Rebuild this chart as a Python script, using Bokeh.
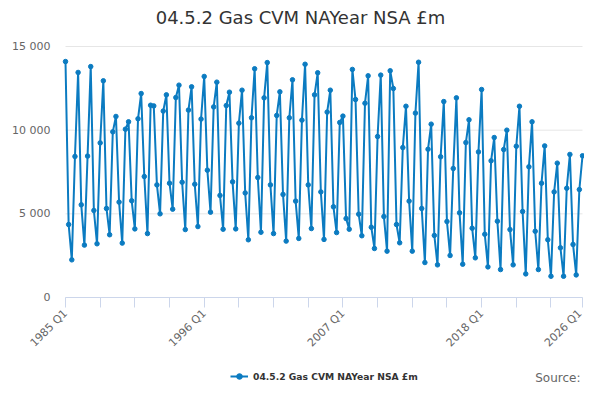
from math import pi

from bokeh.embed import file_html
from bokeh.models import FixedTicker, Label, Legend, Range1d
from bokeh.plotting import figure
from bokeh.resources import INLINE

#-------------- data ------------------#
start_year = 1985
gas_cvm = [
    14100, 4360, 2250, 8430, 13450, 5540, 3130, 8450, 13800, 5200, 3210, 9240, 12950, 5320, 3750, 9900, 10820, 5700, 3250, 10060, 10500,
    5780, 4100, 10680, 12190, 7230, 3820, 11490, 11450, 6730, 5000, 11140, 12110, 6830, 5280, 11950, 12690, 6890, 4060, 11200, 12590, 6770,
    4240, 10660, 13210, 7610, 5100, 11390, 12870, 6100, 4080, 11470, 12270, 6910, 4100, 10420, 12390, 6250, 3450, 10740, 13670, 7170, 3900,
    11930, 14040, 6730, 3820, 10880, 12290, 6160, 3370, 10740, 13010, 5760, 3530, 10600, 13940, 6730, 4120, 12110, 13430, 6310, 3470, 11080,
    12390, 5420, 3880, 10460, 10840, 4720, 4080, 13630, 11830, 4980, 3690, 11610, 13250, 4200, 2930, 9620, 13290, 4840, 2770, 13550, 12490,
    4360, 3270, 8960, 11430, 5760, 2770, 11020, 14060, 5320, 2090, 8860, 10360, 3710, 1950, 8410, 11710, 4540, 2510, 7710, 11930, 5060,
    1990, 9260, 10620, 4140, 2370, 8700, 12430, 3780, 1830, 8170, 9560, 4560, 1670, 8840, 10000, 4060, 1950, 9040, 11430, 5140, 1410,
    7810, 10500, 3960, 1670, 6830, 9060, 3450, 1270, 6310, 8030, 2970, 1270, 6530, 8550, 3170, 1350, 6450, 8470,
]
periods = ["%d Q%d" % (start_year + i // 4, i % 4 + 1) for i in range(len(gas_cvm))]
idx = list(range(len(gas_cvm)))

y_ticks = [0, 5000, 10000, 15000]
y_labels = ["0", "5 000", "10 000", "15 000"]
label_every = 44
tick_every = 11
#-------------------------------------#

series_name = "04.5.2 Gas CVM NAYear NSA £m"
blue = "#0b7bc1"
font = "DejaVu Sans"
W, H = 584, 384
last = len(gas_cvm) - 1

#---- pixel layout of the plot area ---#
# the frame fills the whole canvas; axes sit inside it at fixed locations
X0, X1 = 65, 582          # px of first / last quarter
Y0, Y1 = 297, 46          # px of 0 / 15000
DX = (X1 - X0) / last
DY = (Y0 - Y1) / y_ticks[-1]

def xd(px):
    return (px - X0) / DX

def yd(py):
    return (Y0 - py) / DY
#-------------------------------------#

p = figure(width=W, height=H, output_backend="svg", toolbar_location=None, title=None,
           x_range=Range1d(xd(0), xd(W)), y_range=Range1d(yd(H), yd(0)),
           min_border=0, min_border_left=0, min_border_right=0,
           min_border_top=0, min_border_bottom=0)
p.outline_line_color = None
p.xgrid.grid_line_color = None
p.ygrid.grid_line_color = None

# horizontal grid lines across the plot area only
p.segment(x0=0, x1=last, y0=y_ticks, y1=y_ticks, line_color="#e6e6e6", line_width=1)

line_r = p.line(idx, gas_cvm, line_color=blue, line_width=2)
dot_r = p.scatter(idx, gas_cvm, size=4.5, fill_color=blue, line_color=blue)

# x axis: ticks every 11 quarters, labels every 44 plus the last one
x_ticks = list(range(0, len(gas_cvm), tick_every)) + [last]
p.xaxis.fixed_location = 0
p.xaxis.bounds = (0, last)
p.xaxis.ticker = FixedTicker(ticks=x_ticks)
p.xaxis.major_label_overrides = {
    t: (periods[t] if (t % label_every == 0 or t == last) else "") for t in x_ticks
}
p.xaxis.major_label_orientation = pi / 4
p.xaxis.axis_line_color = "#ccd6eb"
p.xaxis.major_tick_line_color = "#ccd6eb"
p.xaxis.major_tick_out = 10
p.xaxis.major_tick_in = 0
p.xaxis.minor_tick_line_color = None
p.xaxis.major_label_text_font = font
p.xaxis.major_label_text_font_size = "11px"
p.xaxis.major_label_text_color = "#666666"
p.xaxis.major_label_standoff = 4

p.yaxis.fixed_location = 0
p.yaxis.bounds = (0, y_ticks[-1])
p.yaxis.ticker = FixedTicker(ticks=y_ticks)
p.yaxis.major_label_overrides = dict(zip(y_ticks, y_labels))
p.yaxis.axis_line_color = None
p.yaxis.major_tick_line_color = None
p.yaxis.minor_tick_line_color = None
p.yaxis.major_label_text_font = font
p.yaxis.major_label_text_font_size = "11px"
p.yaxis.major_label_text_color = "#666666"
p.yaxis.major_label_standoff = 9

# title
p.add_layout(Label(x=xd(300), y=yd(17), text=series_name, text_align="center",
                   text_baseline="alphabetic", text_font=font, text_font_size="18px",
                   text_color="#333333"))

legend = Legend(items=[(series_name, [line_r, dot_r])], orientation="horizontal",
                location=(230, 1), border_line_color=None, background_fill_alpha=0,
                label_text_font=font, label_text_font_size="9.2px",
                label_text_font_style="bold", label_text_color="#333333",
                glyph_width=18, glyph_height=14, label_height=14,
                margin=0, padding=2)
p.add_layout(legend)

p.add_layout(Label(x=xd(580), y=yd(377), text="Source:", text_align="right",
                   text_baseline="alphabetic", text_font=font, text_font_size="12px",
                   text_color="#666666"))

open("out.html", "w").write(file_html(p, INLINE))
